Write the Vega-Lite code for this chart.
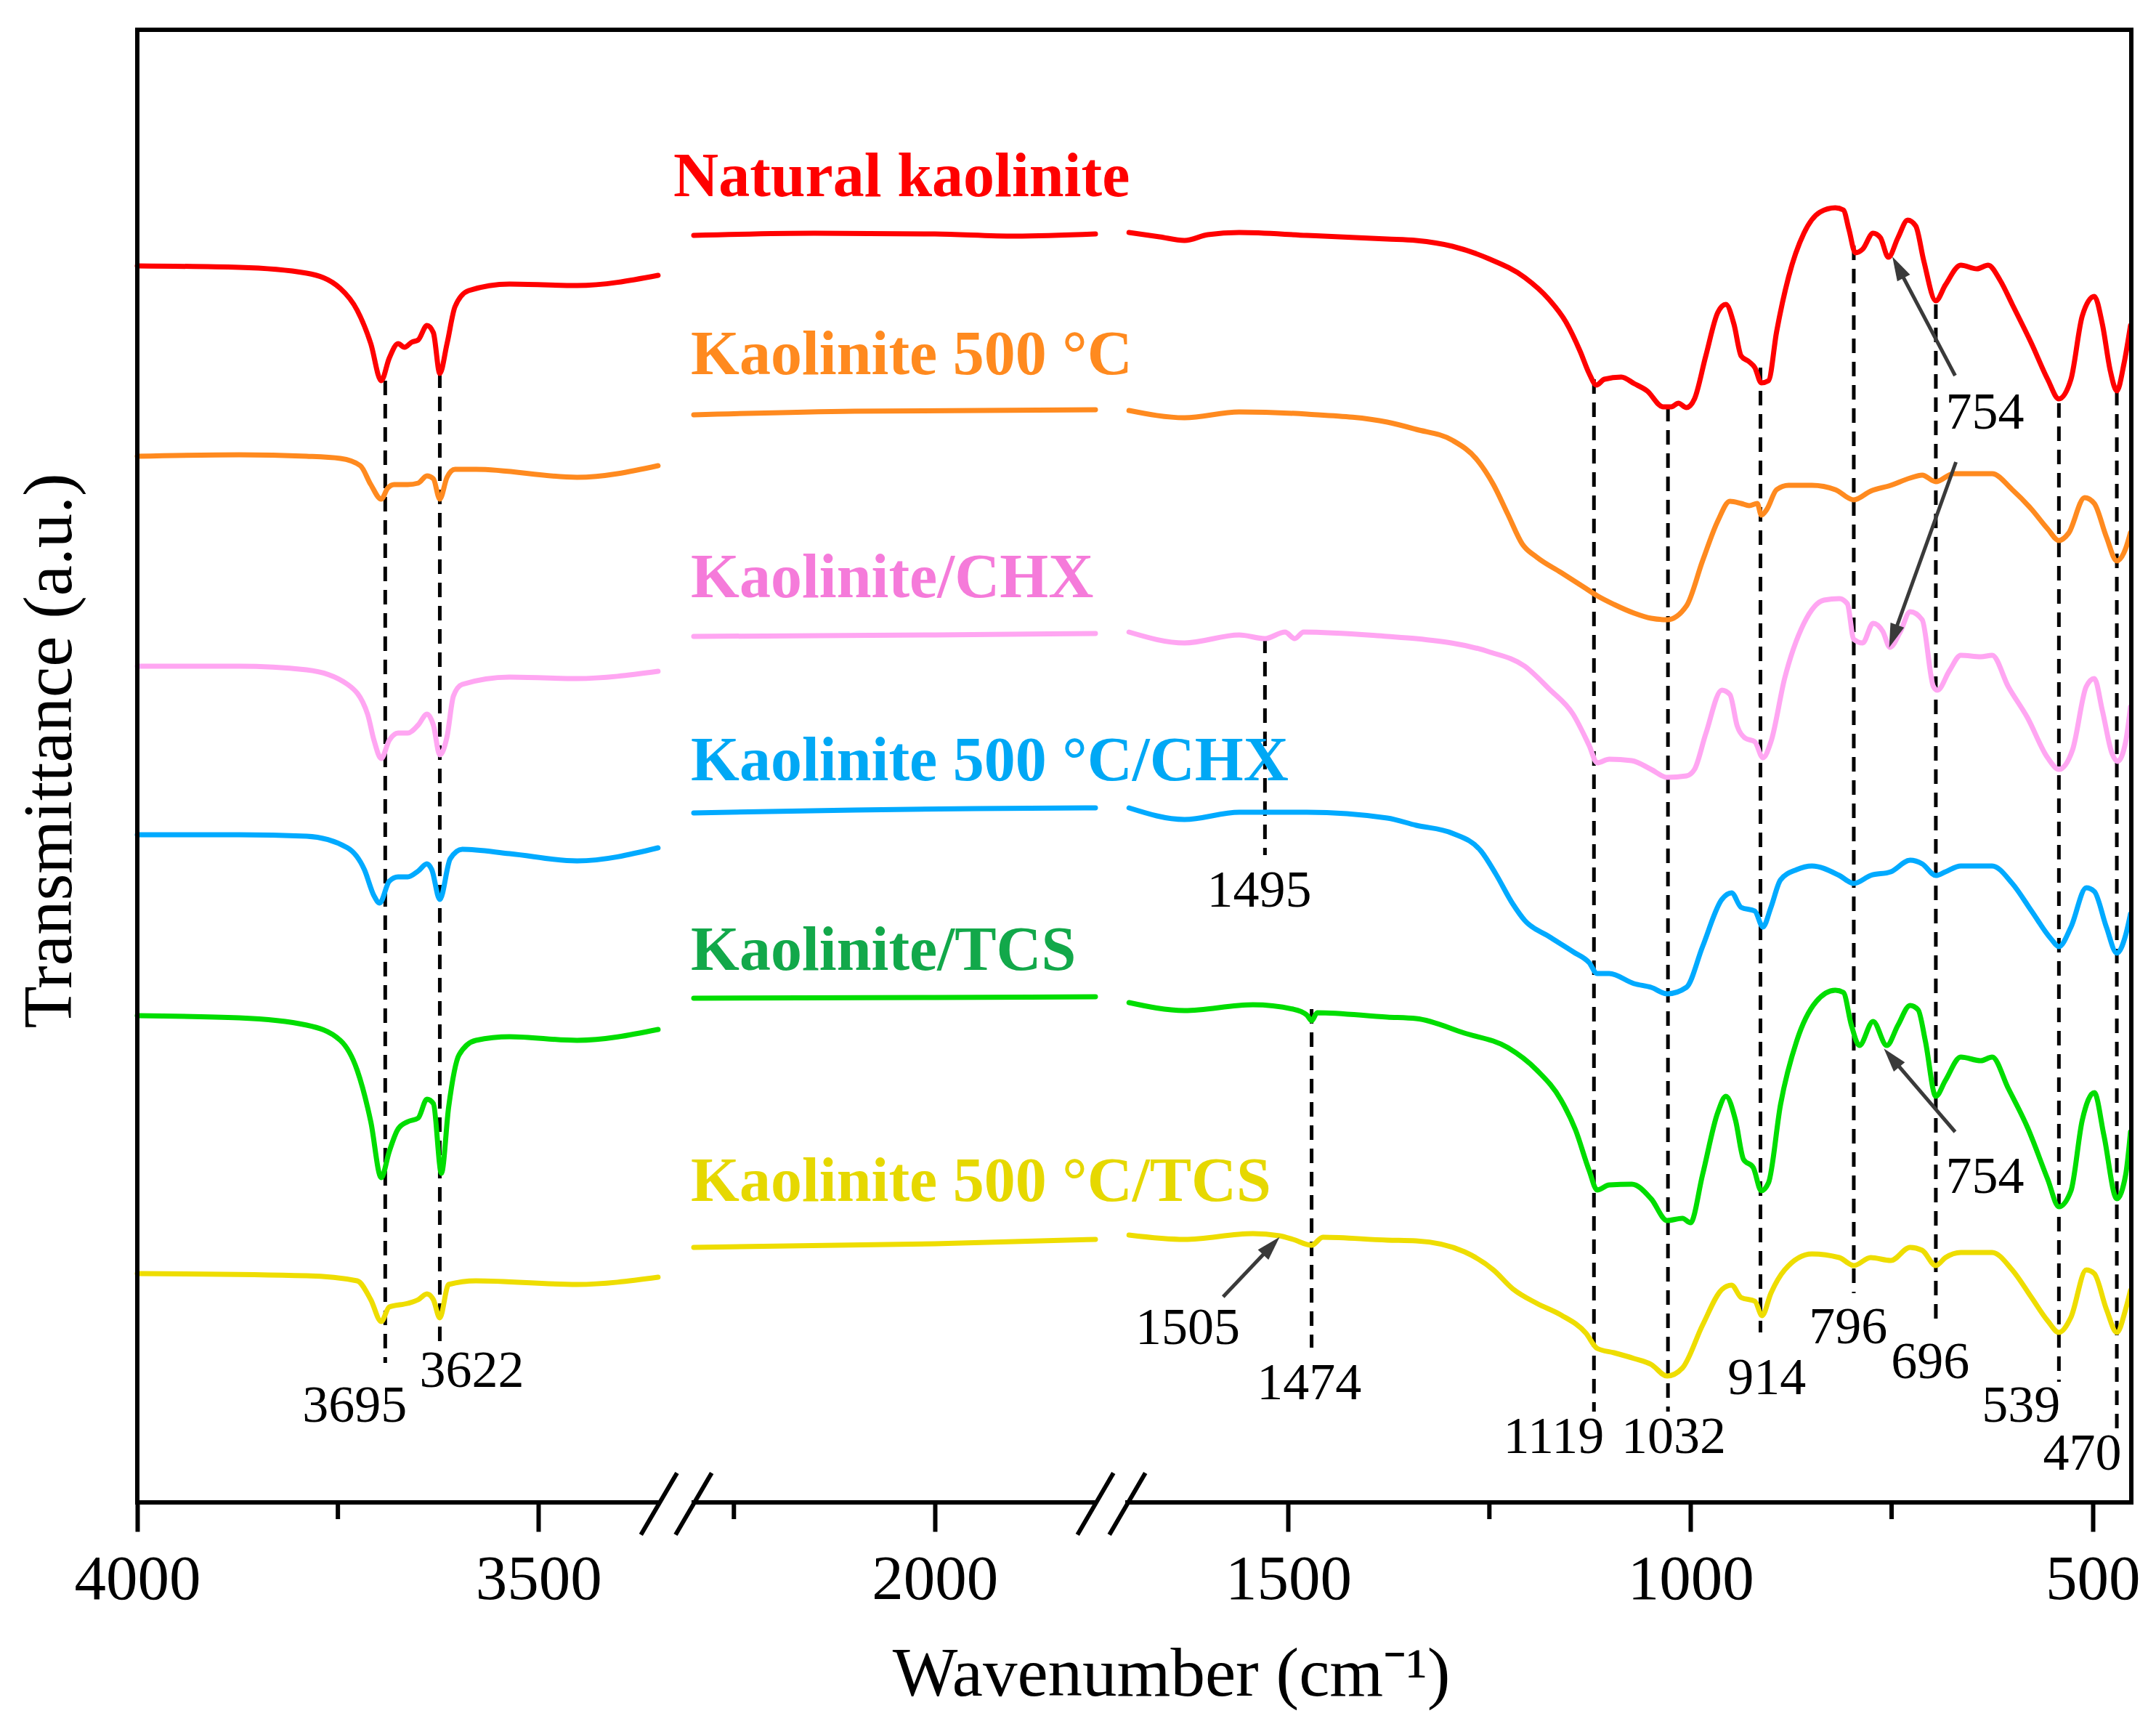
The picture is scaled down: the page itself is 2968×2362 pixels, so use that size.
{
  "$schema": "https://vega.github.io/schema/vega-lite/v6.json",
  "width": 2745,
  "height": 2027,
  "autosize": "none",
  "padding": {"left": 189, "top": 41, "right": 34, "bottom": 294},
  "background": "white",
  "config": {"view": {"stroke": null}, "font": "Liberation Serif"},
  "datasets": {
    "spectra": [
      {"s":"nat","g":1,"w":4000,"t":1702},{"s":"nat","g":1,"w":3873,"t":1700},{"s":"nat","g":1,"w":3789,"t":1692},{"s":"nat","g":1,"w":3747,"t":1671},{"s":"nat","g":1,"w":3726,"t":1641},{"s":"nat","g":1,"w":3709,"t":1595},{"s":"nat","g":1,"w":3696,"t":1544},{"s":"nat","g":1,"w":3686,"t":1575},{"s":"nat","g":1,"w":3675,"t":1595},{"s":"nat","g":1,"w":3667,"t":1590},{"s":"nat","g":1,"w":3658,"t":1597},{"s":"nat","g":1,"w":3650,"t":1600},{"s":"nat","g":1,"w":3639,"t":1620},{"s":"nat","g":1,"w":3631,"t":1610},{"s":"nat","g":1,"w":3623,"t":1554},{"s":"nat","g":1,"w":3614,"t":1595},{"s":"nat","g":1,"w":3604,"t":1646},{"s":"nat","g":1,"w":3587,"t":1668},{"s":"nat","g":1,"w":3536,"t":1677},{"s":"nat","g":1,"w":3452,"t":1675},{"s":"nat","g":1,"w":3351,"t":1689},
      {"s":"nat","g":2,"w":2300,"t":1744},{"s":"nat","g":2,"w":2150,"t":1747},{"s":"nat","g":2,"w":2000,"t":1746},{"s":"nat","g":2,"w":1900,"t":1743},{"s":"nat","g":2,"w":1800,"t":1746},
      {"s":"nat","g":3,"w":1698,"t":1748},{"s":"nat","g":3,"w":1660,"t":1742},{"s":"nat","g":3,"w":1629,"t":1737},{"s":"nat","g":3,"w":1600,"t":1745},{"s":"nat","g":3,"w":1561,"t":1748},{"s":"nat","g":3,"w":1477,"t":1744},{"s":"nat","g":3,"w":1377,"t":1739},{"s":"nat","g":3,"w":1341,"t":1737},{"s":"nat","g":3,"w":1296,"t":1729},{"s":"nat","g":3,"w":1251,"t":1712},{"s":"nat","g":3,"w":1206,"t":1686},{"s":"nat","g":3,"w":1176,"t":1656},{"s":"nat","g":3,"w":1155,"t":1625},{"s":"nat","g":3,"w":1137,"t":1584},{"s":"nat","g":3,"w":1126,"t":1554},{"s":"nat","g":3,"w":1117,"t":1538},{"s":"nat","g":3,"w":1107,"t":1546},{"s":"nat","g":3,"w":1086,"t":1549},{"s":"nat","g":3,"w":1070,"t":1540},{"s":"nat","g":3,"w":1054,"t":1530},{"s":"nat","g":3,"w":1034,"t":1508},{"s":"nat","g":3,"w":1024,"t":1508},{"s":"nat","g":3,"w":1015,"t":1513},{"s":"nat","g":3,"w":1005,"t":1507},{"s":"nat","g":3,"w":995,"t":1519},{"s":"nat","g":3,"w":981,"t":1578},{"s":"nat","g":3,"w":966,"t":1638},{"s":"nat","g":3,"w":956,"t":1649},{"s":"nat","g":3,"w":946,"t":1622},{"s":"nat","g":3,"w":937,"t":1578},{"s":"nat","g":3,"w":927,"t":1570},{"s":"nat","g":3,"w":920,"t":1562},{"s":"nat","g":3,"w":912,"t":1541},{"s":"nat","g":3,"w":903,"t":1544},{"s":"nat","g":3,"w":893,"t":1611},{"s":"nat","g":3,"w":878,"t":1687},{"s":"nat","g":3,"w":859,"t":1747},{"s":"nat","g":3,"w":839,"t":1776},{"s":"nat","g":3,"w":820,"t":1782},{"s":"nat","g":3,"w":810,"t":1779},{"s":"nat","g":3,"w":803,"t":1752},{"s":"nat","g":3,"w":795,"t":1720},{"s":"nat","g":3,"w":786,"t":1725},{"s":"nat","g":3,"w":773,"t":1747},{"s":"nat","g":3,"w":764,"t":1741},{"s":"nat","g":3,"w":754,"t":1714},{"s":"nat","g":3,"w":742,"t":1741},{"s":"nat","g":3,"w":730,"t":1765},{"s":"nat","g":3,"w":720,"t":1757},{"s":"nat","g":3,"w":710,"t":1709},{"s":"nat","g":3,"w":695,"t":1654},{"s":"nat","g":3,"w":683,"t":1676},{"s":"nat","g":3,"w":664,"t":1703},{"s":"nat","g":3,"w":644,"t":1698},{"s":"nat","g":3,"w":630,"t":1703},{"s":"nat","g":3,"w":615,"t":1682},{"s":"nat","g":3,"w":600,"t":1649},{"s":"nat","g":3,"w":576,"t":1595},{"s":"nat","g":3,"w":556,"t":1546},{"s":"nat","g":3,"w":542,"t":1519},{"s":"nat","g":3,"w":527,"t":1546},{"s":"nat","g":3,"w":513,"t":1633},{"s":"nat","g":3,"w":498,"t":1660},{"s":"nat","g":3,"w":488,"t":1622},{"s":"nat","g":3,"w":478,"t":1557},{"s":"nat","g":3,"w":470,"t":1530},{"s":"nat","g":3,"w":461,"t":1568},{"s":"nat","g":3,"w":453,"t":1620},

      {"s":"k500","g":1,"w":4000,"t":1440},{"s":"k500","g":1,"w":3873,"t":1442},{"s":"k500","g":1,"w":3789,"t":1440},{"s":"k500","g":1,"w":3747,"t":1437},{"s":"k500","g":1,"w":3722,"t":1427},{"s":"k500","g":1,"w":3709,"t":1401},{"s":"k500","g":1,"w":3696,"t":1381},{"s":"k500","g":1,"w":3688,"t":1396},{"s":"k500","g":1,"w":3680,"t":1401},{"s":"k500","g":1,"w":3663,"t":1401},{"s":"k500","g":1,"w":3650,"t":1403},{"s":"k500","g":1,"w":3639,"t":1413},{"s":"k500","g":1,"w":3631,"t":1409},{"s":"k500","g":1,"w":3623,"t":1381},{"s":"k500","g":1,"w":3614,"t":1411},{"s":"k500","g":1,"w":3604,"t":1422},{"s":"k500","g":1,"w":3578,"t":1422},{"s":"k500","g":1,"w":3452,"t":1411},{"s":"k500","g":1,"w":3351,"t":1427},
      {"s":"k500","g":2,"w":2300,"t":1497},{"s":"k500","g":2,"w":2100,"t":1502},{"s":"k500","g":2,"w":1800,"t":1504},
      {"s":"k500","g":3,"w":1698,"t":1503},{"s":"k500","g":3,"w":1629,"t":1493},{"s":"k500","g":3,"w":1561,"t":1501},{"s":"k500","g":3,"w":1477,"t":1498},{"s":"k500","g":3,"w":1377,"t":1487},{"s":"k500","g":3,"w":1341,"t":1477},{"s":"k500","g":3,"w":1296,"t":1462},{"s":"k500","g":3,"w":1266,"t":1436},{"s":"k500","g":3,"w":1245,"t":1401},{"s":"k500","g":3,"w":1227,"t":1360},{"s":"k500","g":3,"w":1209,"t":1319},{"s":"k500","g":3,"w":1191,"t":1301},{"s":"k500","g":3,"w":1161,"t":1280},{"s":"k500","g":3,"w":1130,"t":1258},{"s":"k500","g":3,"w":1116,"t":1248},{"s":"k500","g":3,"w":1095,"t":1236},{"s":"k500","g":3,"w":1070,"t":1224},{"s":"k500","g":3,"w":1049,"t":1217},{"s":"k500","g":3,"w":1029,"t":1215},{"s":"k500","g":3,"w":1005,"t":1234},{"s":"k500","g":3,"w":985,"t":1296},{"s":"k500","g":3,"w":966,"t":1351},{"s":"k500","g":3,"w":951,"t":1378},{"s":"k500","g":3,"w":937,"t":1375},{"s":"k500","g":3,"w":927,"t":1372},{"s":"k500","g":3,"w":917,"t":1375},{"s":"k500","g":3,"w":912,"t":1359},{"s":"k500","g":3,"w":905,"t":1367},{"s":"k500","g":3,"w":893,"t":1394},{"s":"k500","g":3,"w":878,"t":1400},{"s":"k500","g":3,"w":849,"t":1400},{"s":"k500","g":3,"w":820,"t":1394},{"s":"k500","g":3,"w":797,"t":1380},{"s":"k500","g":3,"w":776,"t":1392},{"s":"k500","g":3,"w":751,"t":1400},{"s":"k500","g":3,"w":727,"t":1410},{"s":"k500","g":3,"w":712,"t":1414},{"s":"k500","g":3,"w":695,"t":1405},{"s":"k500","g":3,"w":673,"t":1416},{"s":"k500","g":3,"w":625,"t":1416},{"s":"k500","g":3,"w":600,"t":1394},{"s":"k500","g":3,"w":576,"t":1367},{"s":"k500","g":3,"w":556,"t":1340},{"s":"k500","g":3,"w":542,"t":1324},{"s":"k500","g":3,"w":530,"t":1334},{"s":"k500","g":3,"w":510,"t":1383},{"s":"k500","g":3,"w":498,"t":1375},{"s":"k500","g":3,"w":483,"t":1329},{"s":"k500","g":3,"w":470,"t":1296},{"s":"k500","g":3,"w":459,"t":1313},{"s":"k500","g":3,"w":453,"t":1335},

      {"s":"chx","g":1,"w":4000,"t":1151},{"s":"chx","g":1,"w":3873,"t":1151},{"s":"chx","g":1,"w":3789,"t":1146},{"s":"chx","g":1,"w":3738,"t":1126},{"s":"chx","g":1,"w":3713,"t":1085},{"s":"chx","g":1,"w":3705,"t":1049},{"s":"chx","g":1,"w":3696,"t":1024},{"s":"chx","g":1,"w":3686,"t":1049},{"s":"chx","g":1,"w":3675,"t":1059},{"s":"chx","g":1,"w":3663,"t":1059},{"s":"chx","g":1,"w":3650,"t":1070},{"s":"chx","g":1,"w":3639,"t":1085},{"s":"chx","g":1,"w":3631,"t":1070},{"s":"chx","g":1,"w":3623,"t":1029},{"s":"chx","g":1,"w":3614,"t":1054},{"s":"chx","g":1,"w":3606,"t":1110},{"s":"chx","g":1,"w":3595,"t":1126},{"s":"chx","g":1,"w":3536,"t":1136},{"s":"chx","g":1,"w":3452,"t":1134},{"s":"chx","g":1,"w":3351,"t":1144},
      {"s":"chx","g":2,"w":2300,"t":1192},{"s":"chx","g":2,"w":2000,"t":1194},{"s":"chx","g":2,"w":1800,"t":1196},
      {"s":"chx","g":3,"w":1698,"t":1198},{"s":"chx","g":3,"w":1629,"t":1183},{"s":"chx","g":3,"w":1561,"t":1194},{"s":"chx","g":3,"w":1529,"t":1189},{"s":"chx","g":3,"w":1504,"t":1198},{"s":"chx","g":3,"w":1492,"t":1189},{"s":"chx","g":3,"w":1481,"t":1198},{"s":"chx","g":3,"w":1377,"t":1192},{"s":"chx","g":3,"w":1341,"t":1189},{"s":"chx","g":3,"w":1251,"t":1171},{"s":"chx","g":3,"w":1206,"t":1151},{"s":"chx","g":3,"w":1176,"t":1120},{"s":"chx","g":3,"w":1146,"t":1085},{"s":"chx","g":3,"w":1126,"t":1042},{"s":"chx","g":3,"w":1116,"t":1018},{"s":"chx","g":3,"w":1101,"t":1023},{"s":"chx","g":3,"w":1073,"t":1021},{"s":"chx","g":3,"w":1049,"t":1009},{"s":"chx","g":3,"w":1029,"t":998},{"s":"chx","g":3,"w":1005,"t":1000},{"s":"chx","g":3,"w":995,"t":1009},{"s":"chx","g":3,"w":981,"t":1058},{"s":"chx","g":3,"w":961,"t":1118},{"s":"chx","g":3,"w":951,"t":1112},{"s":"chx","g":3,"w":942,"t":1069},{"s":"chx","g":3,"w":932,"t":1052},{"s":"chx","g":3,"w":920,"t":1047},{"s":"chx","g":3,"w":910,"t":1025},{"s":"chx","g":3,"w":900,"t":1047},{"s":"chx","g":3,"w":883,"t":1134},{"s":"chx","g":3,"w":859,"t":1210},{"s":"chx","g":3,"w":834,"t":1242},{"s":"chx","g":3,"w":815,"t":1244},{"s":"chx","g":3,"w":805,"t":1237},{"s":"chx","g":3,"w":797,"t":1188},{"s":"chx","g":3,"w":786,"t":1183},{"s":"chx","g":3,"w":773,"t":1210},{"s":"chx","g":3,"w":761,"t":1199},{"s":"chx","g":3,"w":752,"t":1177},{"s":"chx","g":3,"w":739,"t":1199},{"s":"chx","g":3,"w":727,"t":1226},{"s":"chx","g":3,"w":712,"t":1215},{"s":"chx","g":3,"w":698,"t":1123},{"s":"chx","g":3,"w":693,"t":1118},{"s":"chx","g":3,"w":678,"t":1145},{"s":"chx","g":3,"w":664,"t":1166},{"s":"chx","g":3,"w":639,"t":1164},{"s":"chx","g":3,"w":625,"t":1166},{"s":"chx","g":3,"w":605,"t":1123},{"s":"chx","g":3,"w":581,"t":1080},{"s":"chx","g":3,"w":556,"t":1025},{"s":"chx","g":3,"w":542,"t":1009},{"s":"chx","g":3,"w":525,"t":1036},{"s":"chx","g":3,"w":508,"t":1123},{"s":"chx","g":3,"w":498,"t":1134},{"s":"chx","g":3,"w":488,"t":1090},{"s":"chx","g":3,"w":476,"t":1031},{"s":"chx","g":3,"w":469,"t":1020},{"s":"chx","g":3,"w":459,"t":1047},{"s":"chx","g":3,"w":453,"t":1095},

      {"s":"k500chx","g":1,"w":4000,"t":919},{"s":"k500chx","g":1,"w":3873,"t":919},{"s":"k500chx","g":1,"w":3789,"t":917},{"s":"k500chx","g":1,"w":3738,"t":901},{"s":"k500chx","g":1,"w":3717,"t":871},{"s":"k500chx","g":1,"w":3705,"t":835},{"s":"k500chx","g":1,"w":3698,"t":825},{"s":"k500chx","g":1,"w":3686,"t":855},{"s":"k500chx","g":1,"w":3675,"t":861},{"s":"k500chx","g":1,"w":3663,"t":861},{"s":"k500chx","g":1,"w":3650,"t":869},{"s":"k500chx","g":1,"w":3639,"t":879},{"s":"k500chx","g":1,"w":3633,"t":871},{"s":"k500chx","g":1,"w":3623,"t":830},{"s":"k500chx","g":1,"w":3610,"t":886},{"s":"k500chx","g":1,"w":3595,"t":899},{"s":"k500chx","g":1,"w":3536,"t":893},{"s":"k500chx","g":1,"w":3452,"t":883},{"s":"k500chx","g":1,"w":3351,"t":901},
      {"s":"k500chx","g":2,"w":2300,"t":949},{"s":"k500chx","g":2,"w":2100,"t":953},{"s":"k500chx","g":2,"w":1950,"t":955},{"s":"k500chx","g":2,"w":1800,"t":956},
      {"s":"k500chx","g":3,"w":1698,"t":956},{"s":"k500chx","g":3,"w":1629,"t":940},{"s":"k500chx","g":3,"w":1561,"t":950},{"s":"k500chx","g":3,"w":1477,"t":950},{"s":"k500chx","g":3,"w":1377,"t":942},{"s":"k500chx","g":3,"w":1341,"t":932},{"s":"k500chx","g":3,"w":1296,"t":921},{"s":"k500chx","g":3,"w":1260,"t":896},{"s":"k500chx","g":3,"w":1242,"t":865},{"s":"k500chx","g":3,"w":1221,"t":824},{"s":"k500chx","g":3,"w":1206,"t":801},{"s":"k500chx","g":3,"w":1176,"t":779},{"s":"k500chx","g":3,"w":1146,"t":758},{"s":"k500chx","g":3,"w":1126,"t":743},{"s":"k500chx","g":3,"w":1116,"t":728},{"s":"k500chx","g":3,"w":1101,"t":728},{"s":"k500chx","g":3,"w":1070,"t":714},{"s":"k500chx","g":3,"w":1049,"t":709},{"s":"k500chx","g":3,"w":1029,"t":700},{"s":"k500chx","g":3,"w":1005,"t":709},{"s":"k500chx","g":3,"w":985,"t":765},{"s":"k500chx","g":3,"w":961,"t":830},{"s":"k500chx","g":3,"w":949,"t":839},{"s":"k500chx","g":3,"w":937,"t":819},{"s":"k500chx","g":3,"w":920,"t":814},{"s":"k500chx","g":3,"w":910,"t":792},{"s":"k500chx","g":3,"w":900,"t":819},{"s":"k500chx","g":3,"w":888,"t":857},{"s":"k500chx","g":3,"w":868,"t":871},{"s":"k500chx","g":3,"w":849,"t":876},{"s":"k500chx","g":3,"w":815,"t":863},{"s":"k500chx","g":3,"w":797,"t":852},{"s":"k500chx","g":3,"w":776,"t":863},{"s":"k500chx","g":3,"w":751,"t":868},{"s":"k500chx","g":3,"w":727,"t":884},{"s":"k500chx","g":3,"w":712,"t":879},{"s":"k500chx","g":3,"w":695,"t":863},{"s":"k500chx","g":3,"w":683,"t":868},{"s":"k500chx","g":3,"w":664,"t":876},{"s":"k500chx","g":3,"w":625,"t":876},{"s":"k500chx","g":3,"w":600,"t":852},{"s":"k500chx","g":3,"w":576,"t":814},{"s":"k500chx","g":3,"w":552,"t":776},{"s":"k500chx","g":3,"w":542,"t":765},{"s":"k500chx","g":3,"w":527,"t":792},{"s":"k500chx","g":3,"w":508,"t":846},{"s":"k500chx","g":3,"w":498,"t":841},{"s":"k500chx","g":3,"w":483,"t":792},{"s":"k500chx","g":3,"w":470,"t":756},{"s":"k500chx","g":3,"w":459,"t":781},{"s":"k500chx","g":3,"w":453,"t":810},

      {"s":"tcs","g":1,"w":4000,"t":670},{"s":"tcs","g":1,"w":3873,"t":667},{"s":"tcs","g":1,"w":3789,"t":657},{"s":"tcs","g":1,"w":3747,"t":636},{"s":"tcs","g":1,"w":3726,"t":595},{"s":"tcs","g":1,"w":3709,"t":524},{"s":"tcs","g":1,"w":3696,"t":447},{"s":"tcs","g":1,"w":3686,"t":483},{"s":"tcs","g":1,"w":3675,"t":514},{"s":"tcs","g":1,"w":3663,"t":524},{"s":"tcs","g":1,"w":3650,"t":529},{"s":"tcs","g":1,"w":3639,"t":555},{"s":"tcs","g":1,"w":3631,"t":549},{"s":"tcs","g":1,"w":3621,"t":453},{"s":"tcs","g":1,"w":3612,"t":544},{"s":"tcs","g":1,"w":3599,"t":616},{"s":"tcs","g":1,"w":3578,"t":636},{"s":"tcs","g":1,"w":3536,"t":641},{"s":"tcs","g":1,"w":3452,"t":636},{"s":"tcs","g":1,"w":3351,"t":651},
      {"s":"tcs","g":2,"w":2300,"t":694},{"s":"tcs","g":2,"w":2000,"t":695},{"s":"tcs","g":2,"w":1800,"t":696},
      {"s":"tcs","g":3,"w":1698,"t":688},{"s":"tcs","g":3,"w":1629,"t":677},{"s":"tcs","g":3,"w":1544,"t":685},{"s":"tcs","g":3,"w":1494,"t":679},{"s":"tcs","g":3,"w":1477,"t":671},{"s":"tcs","g":3,"w":1471,"t":663},{"s":"tcs","g":3,"w":1464,"t":674},{"s":"tcs","g":3,"w":1377,"t":668},{"s":"tcs","g":3,"w":1341,"t":666},{"s":"tcs","g":3,"w":1281,"t":646},{"s":"tcs","g":3,"w":1227,"t":626},{"s":"tcs","g":3,"w":1191,"t":595},{"s":"tcs","g":3,"w":1161,"t":554},{"s":"tcs","g":3,"w":1143,"t":513},{"s":"tcs","g":3,"w":1126,"t":457},{"s":"tcs","g":3,"w":1116,"t":430},{"s":"tcs","g":3,"w":1101,"t":437},{"s":"tcs","g":3,"w":1073,"t":438},{"s":"tcs","g":3,"w":1049,"t":418},{"s":"tcs","g":3,"w":1029,"t":388},{"s":"tcs","g":3,"w":1010,"t":391},{"s":"tcs","g":3,"w":1000,"t":385},{"s":"tcs","g":3,"w":985,"t":451},{"s":"tcs","g":3,"w":966,"t":537},{"s":"tcs","g":3,"w":956,"t":559},{"s":"tcs","g":3,"w":944,"t":526},{"s":"tcs","g":3,"w":934,"t":472},{"s":"tcs","g":3,"w":922,"t":461},{"s":"tcs","g":3,"w":912,"t":429},{"s":"tcs","g":3,"w":903,"t":440},{"s":"tcs","g":3,"w":888,"t":548},{"s":"tcs","g":3,"w":868,"t":635},{"s":"tcs","g":3,"w":844,"t":689},{"s":"tcs","g":3,"w":820,"t":705},{"s":"tcs","g":3,"w":810,"t":702},{"s":"tcs","g":3,"w":800,"t":657},{"s":"tcs","g":3,"w":790,"t":629},{"s":"tcs","g":3,"w":773,"t":662},{"s":"tcs","g":3,"w":756,"t":629},{"s":"tcs","g":3,"w":742,"t":657},{"s":"tcs","g":3,"w":727,"t":684},{"s":"tcs","g":3,"w":717,"t":678},{"s":"tcs","g":3,"w":708,"t":635},{"s":"tcs","g":3,"w":695,"t":559},{"s":"tcs","g":3,"w":683,"t":581},{"s":"tcs","g":3,"w":664,"t":613},{"s":"tcs","g":3,"w":639,"t":608},{"s":"tcs","g":3,"w":625,"t":613},{"s":"tcs","g":3,"w":605,"t":570},{"s":"tcs","g":3,"w":581,"t":516},{"s":"tcs","g":3,"w":556,"t":445},{"s":"tcs","g":3,"w":542,"t":407},{"s":"tcs","g":3,"w":527,"t":429},{"s":"tcs","g":3,"w":513,"t":526},{"s":"tcs","g":3,"w":498,"t":564},{"s":"tcs","g":3,"w":486,"t":505},{"s":"tcs","g":3,"w":470,"t":418},{"s":"tcs","g":3,"w":459,"t":451},{"s":"tcs","g":3,"w":453,"t":510},

      {"s":"k500tcs","g":1,"w":4000,"t":315},{"s":"k500tcs","g":1,"w":3789,"t":312},{"s":"k500tcs","g":1,"w":3726,"t":305},{"s":"k500tcs","g":1,"w":3709,"t":279},{"s":"k500tcs","g":1,"w":3696,"t":249},{"s":"k500tcs","g":1,"w":3686,"t":269},{"s":"k500tcs","g":1,"w":3663,"t":274},{"s":"k500tcs","g":1,"w":3650,"t":279},{"s":"k500tcs","g":1,"w":3639,"t":287},{"s":"k500tcs","g":1,"w":3631,"t":279},{"s":"k500tcs","g":1,"w":3623,"t":254},{"s":"k500tcs","g":1,"w":3612,"t":300},{"s":"k500tcs","g":1,"w":3578,"t":305},{"s":"k500tcs","g":1,"w":3452,"t":300},{"s":"k500tcs","g":1,"w":3351,"t":310},
      {"s":"k500tcs","g":2,"w":2300,"t":351},{"s":"k500tcs","g":2,"w":2000,"t":356},{"s":"k500tcs","g":2,"w":1800,"t":362},
      {"s":"k500tcs","g":3,"w":1698,"t":368},{"s":"k500tcs","g":3,"w":1629,"t":362},{"s":"k500tcs","g":3,"w":1544,"t":370},{"s":"k500tcs","g":3,"w":1511,"t":367},{"s":"k500tcs","g":3,"w":1494,"t":362},{"s":"k500tcs","g":3,"w":1471,"t":354},{"s":"k500tcs","g":3,"w":1457,"t":365},{"s":"k500tcs","g":3,"w":1377,"t":361},{"s":"k500tcs","g":3,"w":1341,"t":360},{"s":"k500tcs","g":3,"w":1281,"t":345},{"s":"k500tcs","g":3,"w":1245,"t":320},{"s":"k500tcs","g":3,"w":1221,"t":294},{"s":"k500tcs","g":3,"w":1191,"t":274},{"s":"k500tcs","g":3,"w":1161,"t":258},{"s":"k500tcs","g":3,"w":1130,"t":233},{"s":"k500tcs","g":3,"w":1116,"t":212},{"s":"k500tcs","g":3,"w":1095,"t":206},{"s":"k500tcs","g":3,"w":1070,"t":198},{"s":"k500tcs","g":3,"w":1049,"t":190},{"s":"k500tcs","g":3,"w":1029,"t":174},{"s":"k500tcs","g":3,"w":1010,"t":185},{"s":"k500tcs","g":3,"w":985,"t":244},{"s":"k500tcs","g":3,"w":961,"t":293},{"s":"k500tcs","g":3,"w":949,"t":299},{"s":"k500tcs","g":3,"w":937,"t":282},{"s":"k500tcs","g":3,"w":920,"t":277},{"s":"k500tcs","g":3,"w":911,"t":257},{"s":"k500tcs","g":3,"w":900,"t":288},{"s":"k500tcs","g":3,"w":883,"t":320},{"s":"k500tcs","g":3,"w":849,"t":342},{"s":"k500tcs","g":3,"w":815,"t":337},{"s":"k500tcs","g":3,"w":797,"t":326},{"s":"k500tcs","g":3,"w":776,"t":337},{"s":"k500tcs","g":3,"w":751,"t":333},{"s":"k500tcs","g":3,"w":727,"t":351},{"s":"k500tcs","g":3,"w":712,"t":347},{"s":"k500tcs","g":3,"w":695,"t":326},{"s":"k500tcs","g":3,"w":683,"t":337},{"s":"k500tcs","g":3,"w":664,"t":344},{"s":"k500tcs","g":3,"w":625,"t":344},{"s":"k500tcs","g":3,"w":600,"t":320},{"s":"k500tcs","g":3,"w":576,"t":282},{"s":"k500tcs","g":3,"w":556,"t":250},{"s":"k500tcs","g":3,"w":542,"t":234},{"s":"k500tcs","g":3,"w":527,"t":255},{"s":"k500tcs","g":3,"w":508,"t":320},{"s":"k500tcs","g":3,"w":498,"t":315},{"s":"k500tcs","g":3,"w":483,"t":266},{"s":"k500tcs","g":3,"w":470,"t":234},{"s":"k500tcs","g":3,"w":459,"t":266},{"s":"k500tcs","g":3,"w":453,"t":292}
    ],
    "frame": [
      {"w":4000,"t":0,"w2":3350,"t2":0},
      {"w":2300,"t":0,"w2":1800,"t2":0},
      {"w":1700,"t":0,"w2":452,"t2":0},
      {"w":4000,"t":2027,"w2":452,"t2":2027},
      {"w":4000,"t":0,"w2":4000,"t2":2027},
      {"w":452,"t":0,"w2":452,"t2":2027},
      {"w":3371,"t":-42,"w2":2836,"t2":38},
      {"w":2814,"t":-42,"w2":2279,"t2":38},
      {"w":1821,"t":-42,"w2":1747,"t2":38},
      {"w":1753,"t":-42,"w2":1679,"t2":38},
      {"w":3750,"t":0,"w2":3750,"t2":-20},
      {"w":2250,"t":0,"w2":2250,"t2":-20},
      {"w":1250,"t":0,"w2":1250,"t2":-20},
      {"w":750,"t":0,"w2":750,"t2":-20}
    ],
    "marks": [
      {"w":3691,"t":1544,"t2":192},
      {"w":3623,"t":1554,"t2":213},
      {"w":1529,"t":1189,"t2":891},
      {"w":1471,"t":679,"t2":213},
      {"w":1120,"t":1546,"t2":125},
      {"w":1028,"t":1508,"t2":125},
      {"w":913,"t":1562,"t2":234},
      {"w":797,"t":1730,"t2":288},
      {"w":695,"t":1649,"t2":250},
      {"w":542,"t":1513,"t2":166},
      {"w":470,"t":1530,"t2":98}
    ],
    "names": [
      {"s":"nat","w":2912,"t":1798,"label":"Natural kaolinite"},
      {"s":"k500","w":2387,"t":1553,"label":"Kaolinite 500 °C"},
      {"s":"chx","w":2387,"t":1246,"label":"Kaolinite/CHX"},
      {"s":"k500chx","w":2387,"t":994,"label":"Kaolinite 500 °C/CHX"},
      {"s":"tcs","w":2387,"t":733,"label":"Kaolinite/TCS"},
      {"s":"k500tcs","w":2387,"t":415,"label":"Kaolinite 500 °C/TCS"}
    ],
    "peaks": [
      {"w":3729,"t":133,"label":"3695"},
      {"w":3583,"t":181,"label":"3622"},
      {"w":1536,"t":842,"label":"1495"},
      {"w":1625,"t":240,"label":"1505"},
      {"w":1474,"t":164,"label":"1474"},
      {"w":1170,"t":90,"label":"1119"},
      {"w":1021,"t":90,"label":"1032"},
      {"w":905,"t":171,"label":"914"},
      {"w":804,"t":241,"label":"796"},
      {"w":702,"t":193,"label":"696"},
      {"w":589,"t":133,"label":"539"},
      {"w":513,"t":67,"label":"470"},
      {"w":634,"t":1500,"label":"754"},
      {"w":634,"t":448,"label":"754"}
    ],
    "arrows": [
      {"a":1,"w":671,"t":1551,"w2":742,"t2":1700},
      {"a":2,"w":670,"t":1432,"w2":748,"t2":1192},
      {"a":3,"w":671,"t":510,"w2":750,"t2":612},
      {"a":4,"w":1581,"t":283,"w2":1521,"t2":353}
    ]
  },
  "encoding": {
    "x": {
      "field": "w",
      "type": "quantitative",
      "scale": {
        "domain": [4000, 3350, 2300, 1800, 1700, 452],
        "range": [0, 718, 766, 1319, 1363, 2745],
        "zero": false,
        "nice": false
      },
      "axis": {
        "values": [4000, 3500, 2000, 1500, 1000, 500],
        "format": "d",
        "domain": false,
        "grid": false,
        "tickSize": 40,
        "tickWidth": 6,
        "tickColor": "black",
        "labelFont": "Liberation Serif",
        "labelFontSize": 87,
        "labelColor": "black",
        "labelBaseline": "alphabetic",
        "labelPadding": 92,
        "labelFlush": false,
        "labelOverlap": false,
        "title": "Wavenumber (cm⁻¹)",
        "titleFont": "Liberation Serif",
        "titleFontSize": 95,
        "titleFontWeight": "normal",
        "titleColor": "black",
        "titleX": 1423,
        "titleY": 265,
        "titleBaseline": "alphabetic",
        "titleAlign": "center"
      }
    },
    "y": {
      "field": "t",
      "type": "quantitative",
      "scale": {"domain": [0, 2027], "zero": false, "nice": false},
      "axis": {
        "title": "Transmittance (a.u.)",
        "ticks": false,
        "labels": false,
        "domain": false,
        "grid": false,
        "titleFont": "Liberation Serif",
        "titleFontSize": 95,
        "titleFontWeight": "normal",
        "titleColor": "black",
        "titleX": -92,
        "titleY": 992,
        "titleAngle": -90,
        "titleAlign": "center",
        "titleBaseline": "alphabetic"
      }
    }
  },
  "layer": [
    {
      "data": {"name": "marks"},
      "mark": {"type": "rule", "color": "black", "strokeWidth": 5, "strokeDash": [20, 12]},
      "encoding": {"y2": {"field": "t2"}}
    },
    {
      "data": {"name": "spectra"},
      "mark": {"type": "line", "strokeWidth": 7, "strokeJoin": "round", "strokeCap": "round", "interpolate": "monotone"},
      "encoding": {
        "color": {
          "field": "s",
          "type": "nominal",
          "scale": {
            "domain": ["nat", "k500", "chx", "k500chx", "tcs", "k500tcs"],
            "range": ["#FF0000", "#FF8A1F", "#FFA6F2", "#00AAFF", "#00DD00", "#EEDD00"]
          },
          "legend": null
        },
        "detail": {"field": "g", "type": "nominal"}
      }
    },
    {
      "data": {"name": "frame"},
      "mark": {"type": "rule", "color": "black", "strokeWidth": 6, "strokeCap": "square"},
      "encoding": {"x2": {"field": "w2"}, "y2": {"field": "t2"}}
    },
    {
      "data": {"name": "arrows"},
      "mark": {"type": "rule", "color": "#3a3a3a", "strokeWidth": 5},
      "encoding": {"x2": {"field": "w2"}, "y2": {"field": "t2"}}
    },
    {
      "data": {"name": "arrows"},
      "transform": [{"filter": "datum.a == 1"}],
      "mark": {"type": "point", "shape": "M0,-1L0.6,1L-0.6,1Z", "size": 1100, "filled": true, "color": "#3a3a3a", "opacity": 1, "angle": 332},
      "encoding": {"x": {"field": "w2", "type": "quantitative"}, "y": {"field": "t2", "type": "quantitative"}}
    },
    {
      "data": {"name": "arrows"},
      "transform": [{"filter": "datum.a == 2"}],
      "mark": {"type": "point", "shape": "M0,-1L0.6,1L-0.6,1Z", "size": 1100, "filled": true, "color": "#3a3a3a", "opacity": 1, "angle": 200},
      "encoding": {"x": {"field": "w2", "type": "quantitative"}, "y": {"field": "t2", "type": "quantitative"}}
    },
    {
      "data": {"name": "arrows"},
      "transform": [{"filter": "datum.a == 3"}],
      "mark": {"type": "point", "shape": "M0,-1L0.6,1L-0.6,1Z", "size": 1100, "filled": true, "color": "#3a3a3a", "opacity": 1, "angle": 320},
      "encoding": {"x": {"field": "w2", "type": "quantitative"}, "y": {"field": "t2", "type": "quantitative"}}
    },
    {
      "data": {"name": "arrows"},
      "transform": [{"filter": "datum.a == 4"}],
      "mark": {"type": "point", "shape": "M0,-1L0.6,1L-0.6,1Z", "size": 1100, "filled": true, "color": "#3a3a3a", "opacity": 1, "angle": 43},
      "encoding": {"x": {"field": "w2", "type": "quantitative"}, "y": {"field": "t2", "type": "quantitative"}}
    },
    {
      "data": {"name": "peaks"},
      "mark": {"type": "text", "font": "Liberation Serif", "fontSize": 72, "align": "center", "baseline": "middle", "color": "black"},
      "encoding": {"text": {"field": "label"}}
    },
    {
      "data": {"name": "names"},
      "mark": {"type": "text", "font": "Liberation Serif", "fontWeight": "bold", "fontSize": 86, "align": "left", "baseline": "alphabetic"},
      "encoding": {
        "text": {"field": "label"},
        "color": {
          "field": "s",
          "type": "nominal",
          "scale": {
            "domain": ["nat", "k500", "chx", "k500chx", "tcs", "k500tcs"],
            "range": ["#FF0000", "#FF8A1F", "#F57BDA", "#00A8F5", "#12A84A", "#E6D800"]
          },
          "legend": null
        }
      }
    }
  ],
  "resolve": {"scale": {"color": "independent"}}
}
